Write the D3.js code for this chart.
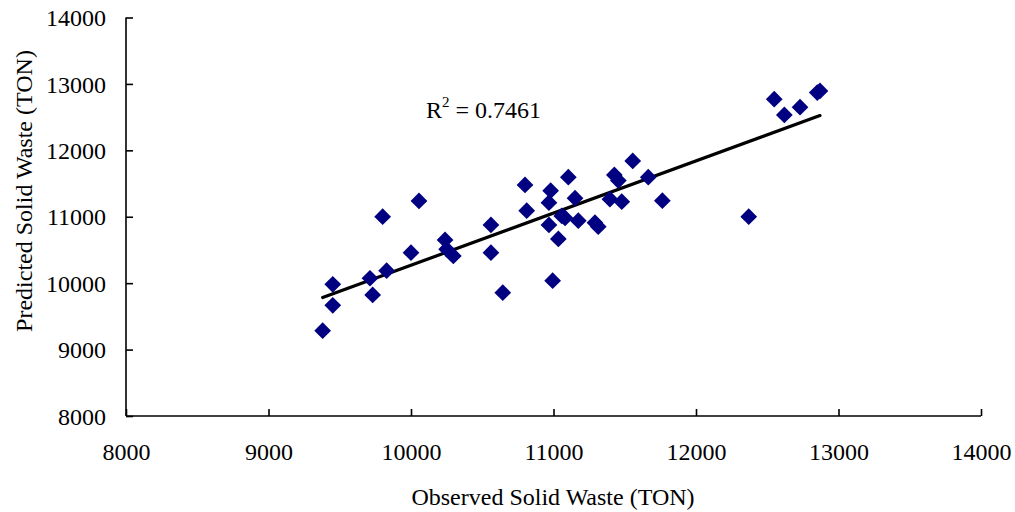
<!DOCTYPE html>
<html>
<head>
<meta charset="utf-8">
<script src="https://cdn.jsdelivr.net/npm/d3@7"></script>
<style>
  body { margin: 0; background: #fff; }
  text { font-family: "Liberation Serif", "Times New Roman", serif; fill: #000; }
</style>
</head>
<body>
<svg width="1015" height="512"></svg>
<script>
/* global d3 */
// observed vs predicted solid waste (TON)
var observed = [9380, 9451, 9451, 9731, 9712, 9829, 9801, 10000, 10056, 10239,
    10250, 10297, 10561, 10561, 10644, 10800, 10812, 10980, 10968, 10968,
    11034, 10994, 11058, 11081, 11104, 11151, 11174, 11291, 11314, 11396,
    11427, 11455, 11479, 11556, 11665, 11764, 12370, 12549, 12620, 12730,
    12851, 12870]
var predicted = [9285, 9667, 9983, 9822, 10074, 10188, 11001, 10459, 11238, 10651,
    10511, 10410, 10877, 10459, 9857, 11479, 11092, 11393, 11212, 10877,
    10666, 10038, 11012, 10982, 11595, 11279, 10941, 10911, 10851, 11264,
    11630, 11544, 11227, 11840, 11595, 11242, 11001, 12770, 12533, 12649,
    12869, 12895]
var xTicks = [8000, 9000, 10000, 11000, 12000, 13000, 14000]
var yTicks = [8000, 9000, 10000, 11000, 12000, 13000, 14000]
var r2Label = '0.7461'

var svg = d3.select('svg')
var dataset = observed.map(function(d, i) { return [d, predicted[i]] })

var xScale = d3.scaleLinear().domain([8000, 14000]).range([126, 981])
var yScale = d3.scaleLinear().domain([8000, 14000]).range([416, 17.5])

var xAxis = d3.axisBottom(xScale).tickValues(xTicks).tickSize(-7).tickPadding(44)
    .tickFormat(d3.format('d'))
var yAxis = d3.axisLeft(yScale).tickValues(yTicks).tickSize(-7).tickPadding(20)
    .tickFormat(d3.format('d'))

var gx = svg.append('g')
    .attr('transform', 'translate(0,' + 416 + ')')
    .call(xAxis)
var gy = svg.append('g')
    .attr('transform', 'translate(' + 126 + ',0)')
    .call(yAxis)

gx.select('.domain').attr('d', 'M126,0H981').attr('stroke', '#000').attr('stroke-width', 1.6)
gy.select('.domain').attr('d', 'M0,416V17.5').attr('stroke', '#000').attr('stroke-width', 1.6)
svg.selectAll('.tick line').attr('stroke', '#000').attr('stroke-width', 1.6)
svg.selectAll('.tick text')
    .attr('font-family', '"Liberation Serif", serif')
    .attr('font-size', 24)
    .attr('fill', '#000')
gx.selectAll('.tick text').attr('dy', 0)
gy.selectAll('.tick text').attr('dy', '0.34em')

// least squares fit
var mx = d3.mean(observed), my = d3.mean(predicted)
var sxy = d3.sum(dataset, function(d) { return (d[0] - mx) * (d[1] - my) })
var sxx = d3.sum(dataset, function(d) { return (d[0] - mx) * (d[0] - mx) })
var slope = sxy / sxx
var icpt = my - slope * mx
var xmin = d3.min(observed), xmax = d3.max(observed)

svg.append('line')
    .attr('x1', xScale(xmin)).attr('y1', yScale(icpt + slope * xmin))
    .attr('x2', xScale(xmax)).attr('y2', yScale(icpt + slope * xmax))
    .attr('stroke', '#000')
    .attr('stroke-width', 3.2)
    .attr('stroke-linecap', 'round')

var diamond = d3.symbol().type(d3.symbolSquare).size(140)
svg.append('g').selectAll('path')
    .data(dataset)
    .enter()
    .append('path')
    .attr('d', diamond)
    .attr('transform', function(d) {
        return 'translate(' + xScale(d[0]) + ',' + yScale(d[1]) + ') rotate(45)'
    })
    .attr('fill', '#000080')

// R squared label
var rt = svg.append('text')
    .attr('x', 426).attr('y', 118)
    .attr('font-size', 24)
rt.append('tspan').text('R')
rt.append('tspan').attr('font-size', 15).attr('dy', -11).text('2')
rt.append('tspan').attr('dy', 11).text(' = ' + r2Label)

svg.append('text')
    .attr('x', 553).attr('y', 505)
    .attr('text-anchor', 'middle')
    .attr('font-size', 24)
    .text('Observed Solid Waste (TON)')

svg.append('text')
    .attr('transform', 'translate(32,191) rotate(-90)')
    .attr('text-anchor', 'middle')
    .attr('font-size', 24)
    .text('Predicted Solid Waste (TON)')
</script>
</body>
</html>
